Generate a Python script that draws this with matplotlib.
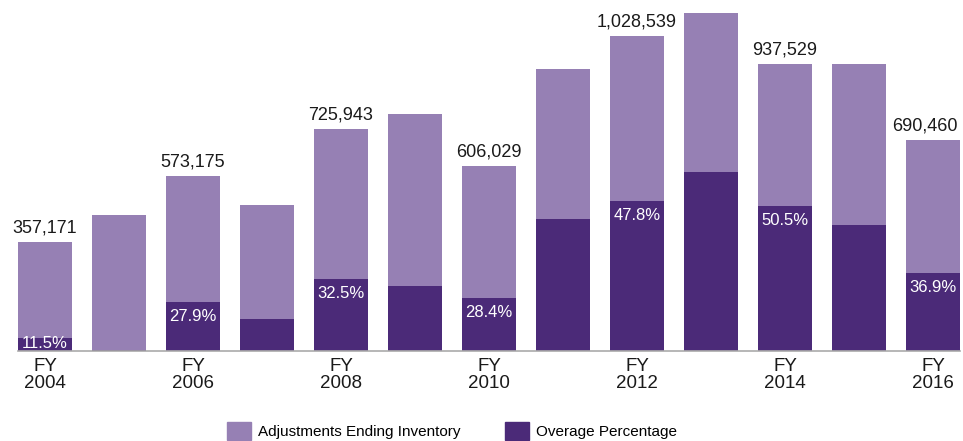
import numpy as np
import matplotlib.pyplot as plt
from matplotlib.patches import Patch

years = ["2004", "2005", "2006", "2007", "2008", "2009", "2010",
         "2011", "2012", "2013", "2014", "2015", "2016"]
inventory = [357171, 445000, 573175, 477000, 725943, 775000, 606029,
             922000, 1028539, 1105000, 937529, 938000, 690460]
overage_pct = [11.5, 0.6, 27.9, 21.9, 32.5, 27.4, 28.4,
               46.8, 47.8, 53.0, 50.5, 43.9, 36.9]
labeled = [True, False] * 6 + [True]

light = "#9680b4"
dark = "#4b2a78"

plt.rcParams['font.family'] = ['Liberation Sans', 'DejaVu Sans']

fig = plt.figure(figsize=(9.63, 4.41), dpi=100)
ax = fig.add_axes([18 / 963, 90 / 441, 942 / 963, 351 / 441])

x = np.arange(len(years))
w = 0.73
overage = [v * p / 100 for v, p in zip(inventory, overage_pct)]
ax.bar(x, inventory, width=w, color=light)
ax.bar(x, overage, width=w, color=dark)

for i in x:
    if not labeled[i]:
        continue
    # last label sits against the right edge
    dx = -6 if i == len(years) - 1 else 0
    ax.annotate(f"{inventory[i]:,}", (i, inventory[i]), xytext=(dx, 4),
                textcoords="offset points", ha="center", va="bottom",
                fontsize=13, color="#1a1a1a")
    if overage[i] > 60000:
        ax.annotate(f"{overage_pct[i]}%", (i, overage[i]), xytext=(0, -5),
                    textcoords="offset points", ha="center", va="top",
                    fontsize=12, color="white")
    else:
        ax.annotate(f"{overage_pct[i]}%", (i, 0), xytext=(0, 0),
                    textcoords="offset points", ha="center", va="bottom",
                    fontsize=12, color="white")

ax.set_xlim(-w / 2, len(years) - 1 + w / 2)
ax.set_ylim(0, 351 * 3270)
ax.set_xticks(x[::2])
ax.set_xticklabels([f"FY\n{y}" for y in years[::2]], fontsize=13.5,
                   color="#1a1a1a", linespacing=1.0)
ax.tick_params(axis="x", length=0, pad=5)
ax.set_yticks([])
for s in ["top", "right", "left"]:
    ax.spines[s].set_visible(False)
ax.spines["bottom"].set_color("#aaaaaa")
ax.spines["bottom"].set_linewidth(1.2)

handles = [Patch(color=light, label="Adjustments Ending Inventory"),
           Patch(color=dark, label="Overage Percentage")]
fig.legend(handles=handles, loc="center", bbox_to_anchor=(452 / 963, 10 / 441),
           ncol=2, frameon=False, fontsize=11, handlelength=1.6,
           handleheight=1.4, columnspacing=2.9, handletextpad=0.45)

fig.savefig("out.png", dpi=100)
